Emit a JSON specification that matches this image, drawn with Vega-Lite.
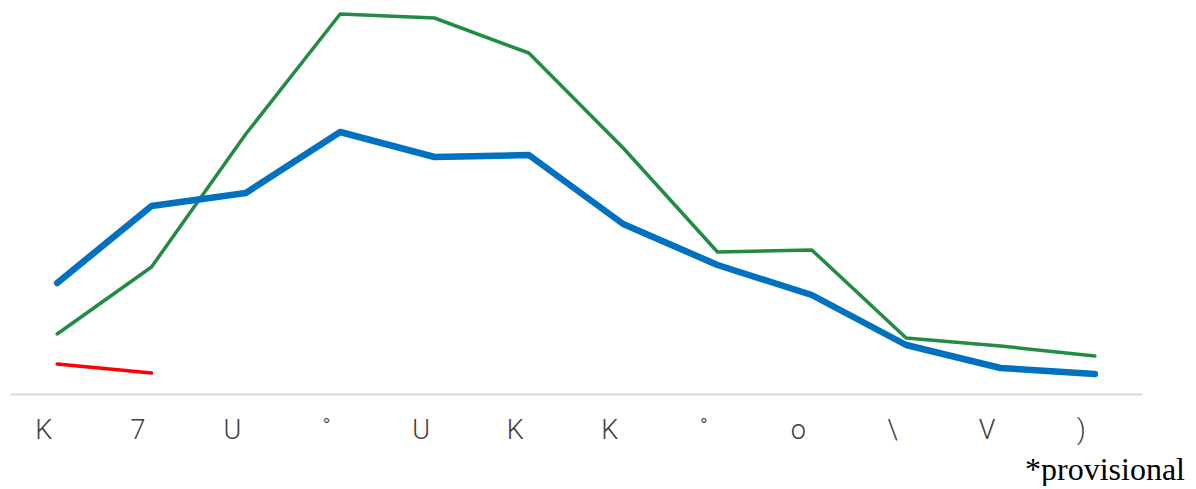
{
  "$schema": "https://vega.github.io/schema/vega-lite/v6.json",
  "width": 1132,
  "height": 394,
  "padding": {"left": 10, "top": 0, "right": 0, "bottom": 0},
  "background": "white",
  "config": {"view": {"stroke": null}},
  "title": {
    "text": "*provisional",
    "orient": "bottom",
    "anchor": "end",
    "font": "Liberation Serif",
    "fontSize": 32,
    "fontWeight": "normal",
    "color": "#000000",
    "dx": 43,
    "offset": 12
  },
  "data": {
    "values": [
      {"i": 0, "series": "A", "value": 111},
      {"i": 1, "series": "A", "value": 188},
      {"i": 2, "series": "A", "value": 201},
      {"i": 3, "series": "A", "value": 262},
      {"i": 4, "series": "A", "value": 237},
      {"i": 5, "series": "A", "value": 239},
      {"i": 6, "series": "A", "value": 170},
      {"i": 7, "series": "A", "value": 129},
      {"i": 8, "series": "A", "value": 99},
      {"i": 9, "series": "A", "value": 49},
      {"i": 10, "series": "A", "value": 26},
      {"i": 11, "series": "A", "value": 20},
      {"i": 0, "series": "B", "value": 60},
      {"i": 1, "series": "B", "value": 127},
      {"i": 2, "series": "B", "value": 260},
      {"i": 3, "series": "B", "value": 380},
      {"i": 4, "series": "B", "value": 376},
      {"i": 5, "series": "B", "value": 341},
      {"i": 6, "series": "B", "value": 246},
      {"i": 7, "series": "B", "value": 142},
      {"i": 8, "series": "B", "value": 144},
      {"i": 9, "series": "B", "value": 56},
      {"i": 10, "series": "B", "value": 48},
      {"i": 11, "series": "B", "value": 38},
      {"i": 0, "series": "C", "value": 30},
      {"i": 1, "series": "C", "value": 21}
    ]
  },
  "encoding": {
    "x": {
      "field": "i",
      "type": "ordinal",
      "scale": {"type": "point", "padding": 0.5},
      "axis": {
        "title": null,
        "labelAngle": 0,
        "ticks": false,
        "grid": false,
        "domainColor": "#d9d9d9",
        "domainWidth": 2,
        "labelFont": "Roboto",
        "labelFontWeight": 300,
        "labelFontSize": 27,
        "labelColor": "#404040",
        "labelPadding": 23,
        "labelOffset": -14,
        "labelExpr": "['K','7','U','˚','U','K','K','˚','o','\\\\','V',')'][datum.value]"
      }
    },
    "y": {
      "field": "value",
      "type": "quantitative",
      "scale": {"domain": [0, 394], "nice": false, "zero": true},
      "axis": null
    },
    "order": {"field": "i"}
  },
  "layer": [
    {
      "transform": [{"filter": "datum.series === 'B'"}],
      "mark": {"type": "line", "strokeCap": "round", "strokeJoin": "round", "color": "#238b45", "strokeWidth": 3.5}
    },
    {
      "transform": [{"filter": "datum.series === 'A'"}],
      "mark": {"type": "line", "strokeCap": "round", "strokeJoin": "round", "color": "#0070c0", "strokeWidth": 6.5}
    },
    {
      "transform": [{"filter": "datum.series === 'C'"}],
      "mark": {"type": "line", "strokeCap": "round", "strokeJoin": "round", "color": "#ff0000", "strokeWidth": 3.5}
    }
  ]
}
